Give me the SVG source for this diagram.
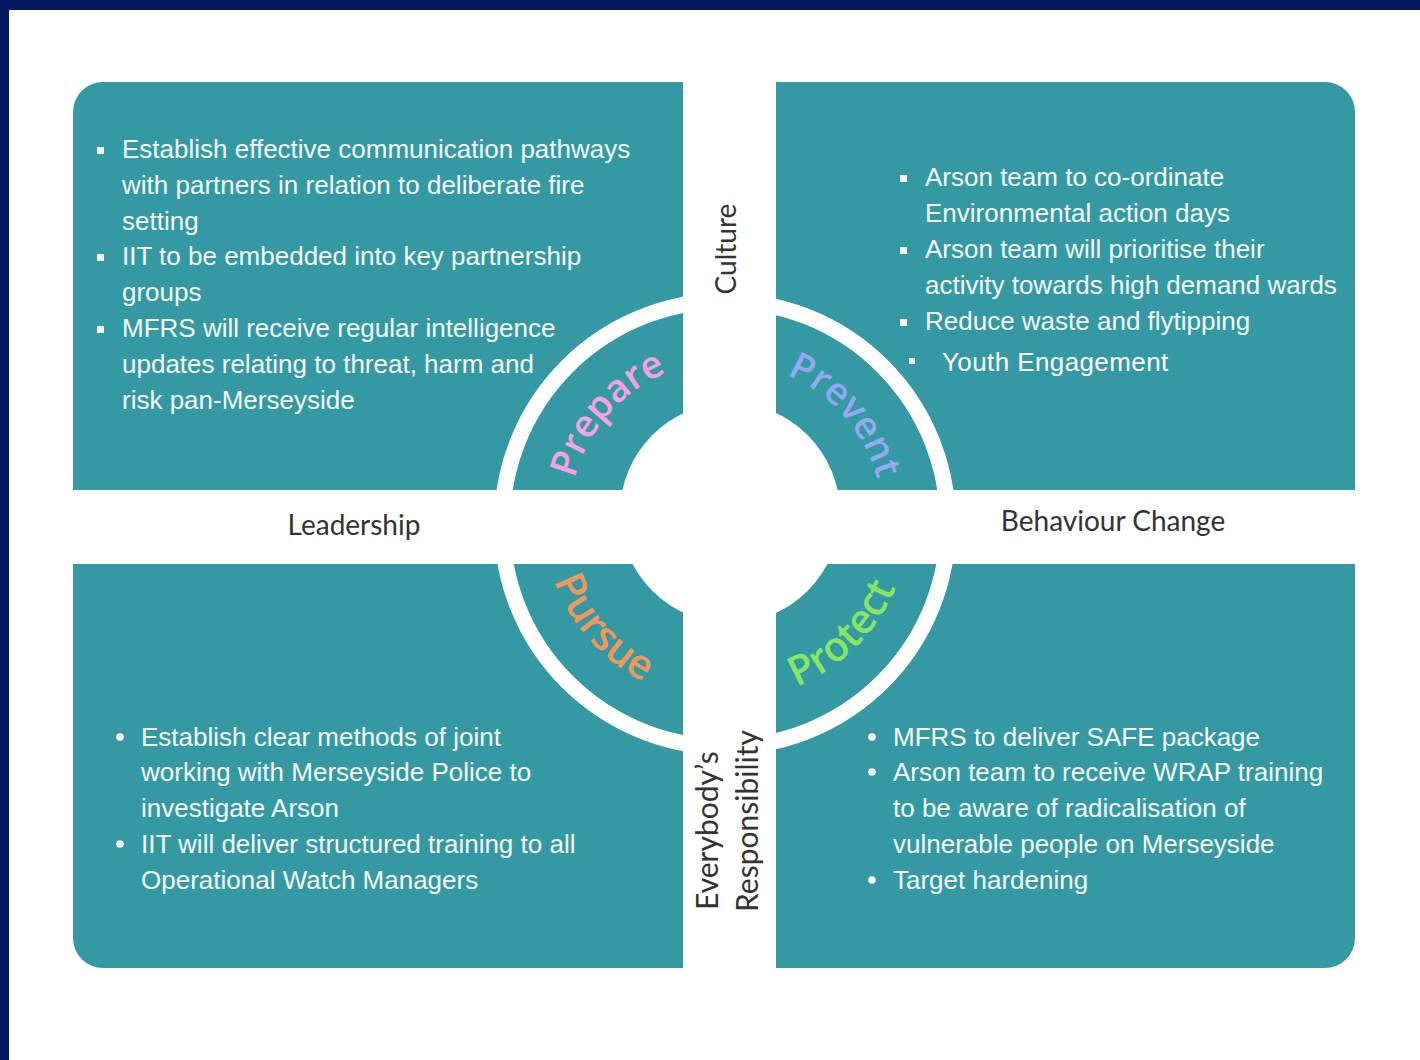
<svg xmlns="http://www.w3.org/2000/svg" width="1420" height="1060" viewBox="0 0 1420 1060">
<style>
.quad{fill:#3499a2}
.body{font-family:"Liberation Sans",Arial,sans-serif;font-size:26px;fill:#f4fbfb}
.youth{font-family:"Liberation Sans",Arial,sans-serif;font-size:26px;letter-spacing:0.4px;fill:#ffffff}
.sq{fill:#f4fbfb}
.lbl{font-family:Lato,"Open Sans",sans-serif;font-size:28px;fill:#333333}
.lbl2{font-family:Lato,"Open Sans",sans-serif;font-size:30px;fill:#333333}
.arcw{font-family:"Open Sans",Lato,sans-serif;font-size:38px;font-weight:600}
.arcb{font-family:"Open Sans",Lato,sans-serif;font-size:41px;font-weight:600}
</style>
<defs>
<path id="arcPrepare" d="M623.34,637.24 A158,158 0 0 1 830.66,398.76"/>
<path id="arcPrevent" d="M625.31,401.02 A155,155 0 0 1 828.69,634.98"/>
<path id="arcPursue" d="M605.08,380.18 A184,184 0 0 0 848.92,655.82"/>
<path id="arcProtect" d="M597.6,647.4 A183,183 0 0 0 856.4,388.6"/>
</defs>
<rect x="0" y="0" width="1420" height="1060" fill="#ffffff"/>
<rect x="0" y="0" width="1420" height="10" fill="#02175f"/>
<rect x="0" y="0" width="9" height="1060" fill="#02175f"/>

<g id="prepare">
<path class="quad" d="M73,490 V112 A30,30 0 0 1 103,82 H683 V490 Z"/>
<g class="body">
<text x="122" y="158">Establish effective communication pathways</text>
<text x="122" y="194">with partners in relation to deliberate fire</text>
<text x="122" y="230">setting</text>
<text x="122" y="265">IIT to be embedded into key partnership</text>
<text x="122" y="301">groups</text>
<text x="122" y="337">MFRS will receive regular intelligence</text>
<text x="122" y="373">updates relating to threat, harm and</text>
<text x="122" y="409">risk pan-Merseyside</text>
</g>
<rect class="sq" x="97" y="147" width="7" height="7"/>
<rect class="sq" x="97" y="254" width="7" height="7"/>
<rect class="sq" x="97" y="326" width="7" height="7"/>
</g>

<g id="prevent">
<path class="quad" d="M776,82 H1325 A30,30 0 0 1 1355,112 V490 H776 Z"/>
<g class="body">
<text x="925" y="186">Arson team to co-ordinate</text>
<text x="925" y="222">Environmental action days</text>
<text x="925" y="258">Arson team will prioritise their</text>
<text x="925" y="294">activity towards high demand wards</text>
<text x="925" y="330">Reduce waste and flytipping</text>
</g>
<text class="youth" x="942" y="371">Youth Engagement</text>
<rect class="sq" x="900" y="175" width="7" height="7"/>
<rect class="sq" x="900" y="247" width="7" height="7"/>
<rect class="sq" x="900" y="319" width="7" height="7"/>
<rect class="sq" x="909" y="358" width="6" height="6"/>
</g>

<g id="pursue">
<path class="quad" d="M73,564 H683 V968 H103 A30,30 0 0 1 73,938 Z"/>
<g class="body">
<text x="141" y="746">Establish clear methods of joint</text>
<text x="141" y="781">working with Merseyside Police to</text>
<text x="141" y="817">investigate Arson</text>
<text x="141" y="853">IIT will deliver structured training to all</text>
<text x="141" y="889">Operational Watch Managers</text>
</g>
<circle class="sq" cx="120" cy="737" r="3.8"/>
<circle class="sq" cx="120" cy="844" r="3.8"/>
</g>

<g id="protect">
<path class="quad" d="M776,564 H1355 V938 A30,30 0 0 1 1325,968 H776 Z"/>
<g class="body">
<text x="893" y="746">MFRS to deliver SAFE package</text>
<text x="893" y="781">Arson team to receive WRAP training</text>
<text x="893" y="817">to be aware of radicalisation of</text>
<text x="893" y="853">vulnerable people on Merseyside</text>
<text x="893" y="889">Target hardening</text>
</g>
<circle class="sq" cx="872" cy="737" r="3.8"/>
<circle class="sq" cx="872" cy="772" r="3.8"/>
<circle class="sq" cx="872" cy="880" r="3.8"/>
</g>

<g id="connectors">
<circle cx="725" cy="524" r="223" fill="none" stroke="#ffffff" stroke-width="16"/>
<circle cx="730" cy="513" r="110" fill="#ffffff"/>
</g>

<g id="ring-labels">
<text class="arcw" fill="#f5a3dc"><textPath href="#arcPrepare" startOffset="50%" text-anchor="middle">Prepare</textPath></text>
<text class="arcw" fill="#93a8f2"><textPath href="#arcPrevent" startOffset="50%" text-anchor="middle">Prevent</textPath></text>
<text class="arcb" fill="#f0975c"><textPath href="#arcPursue" startOffset="50%" text-anchor="middle">Pursue</textPath></text>
<text class="arcb" fill="#88e462"><textPath href="#arcProtect" startOffset="50%" text-anchor="middle">Protect</textPath></text>
</g>

<g id="axis-labels">
<text class="lbl" transform="translate(736,249) rotate(-90)" text-anchor="middle">Culture</text>
<text class="lbl" x="354" y="535" text-anchor="middle">Leadership</text>
<text class="lbl" x="1113" y="531" text-anchor="middle">Behaviour Change</text>
<text class="lbl2" transform="translate(718,910) rotate(-90)">Everybody’s</text>
<text class="lbl2" transform="translate(758,912) rotate(-90)">Responsibility</text>
</g>
</svg>
